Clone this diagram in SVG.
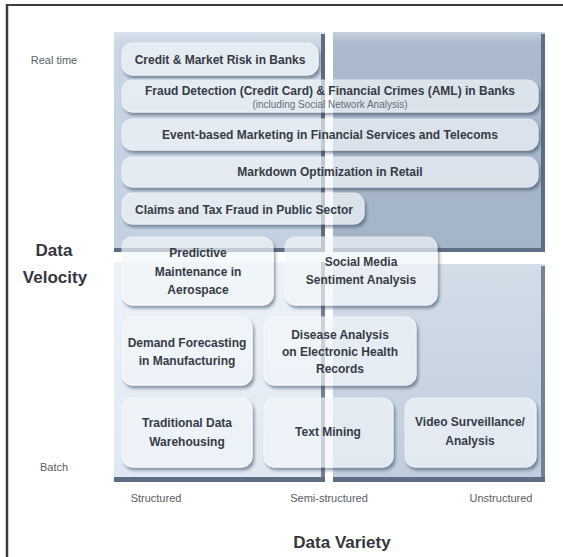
<svg xmlns="http://www.w3.org/2000/svg" width="563" height="557" viewBox="0 0 563 557">
<defs>
<style>
.box{fill:#f3f7fb;stroke:#ffffff;stroke-width:1;opacity:0.68;filter:url(#sh)}
.bt{font-family:"Liberation Sans",Arial,sans-serif;font-weight:bold;font-size:12px;fill:#363b46;text-anchor:middle}
.sub{font-family:"Liberation Sans",Arial,sans-serif;font-size:10px;fill:#666c76;text-anchor:middle}
.ax{font-family:"Liberation Sans",Arial,sans-serif;font-size:11px;fill:#5a5e66;text-anchor:middle}
.big{font-family:"Liberation Sans",Arial,sans-serif;font-weight:bold;font-size:17px;fill:#34373d;text-anchor:middle}
.edge{fill:#5d6d83}
</style>
<filter id="sh" x="-10%" y="-20%" width="125%" height="150%">
<feGaussianBlur in="SourceAlpha" stdDeviation="1.6" result="b"/>
<feOffset in="b" dx="1.5" dy="2.5" result="o"/>
<feComposite in="o" in2="SourceAlpha" operator="out" result="oo"/>
<feFlood flood-color="#34445c" flood-opacity="0.75"/>
<feComposite in2="oo" operator="in" result="s"/>
<feMerge><feMergeNode in="s"/><feMergeNode in="SourceGraphic"/></feMerge>
</filter>
<linearGradient id="gTL" x1="0" y1="0" x2="0" y2="1"><stop offset="0" stop-color="#dbe4ee"/><stop offset="0.05" stop-color="#c9d6e4"/><stop offset="1" stop-color="#c2d0df"/></linearGradient>
<linearGradient id="gTR" x1="0" y1="0" x2="0" y2="1"><stop offset="0" stop-color="#c7d2de"/><stop offset="0.05" stop-color="#abbacc"/><stop offset="1" stop-color="#a5b5c8"/></linearGradient>
<linearGradient id="gBL" x1="0" y1="0" x2="0" y2="1"><stop offset="0" stop-color="#edf2f8"/><stop offset="1" stop-color="#dfe8f2"/></linearGradient>
<linearGradient id="gBR" x1="0" y1="0" x2="0" y2="1"><stop offset="0" stop-color="#d3dde8"/><stop offset="1" stop-color="#bfcddd"/></linearGradient>
</defs>
<rect width="563" height="557" fill="#ffffff"/>
<g id="frame" stroke="#3c3c3c" fill="none">
<line x1="6" y1="5" x2="563" y2="5" stroke-width="2"/>
<line x1="7" y1="4" x2="7" y2="557" stroke-width="2.5"/>
</g>
<g id="quadrants">
<rect x="114" y="32" width="211" height="220" fill="url(#gTL)"/>
<rect x="333" y="32" width="212" height="220" fill="url(#gTR)"/>
<rect x="114" y="262" width="211" height="220" fill="url(#gBL)"/>
<rect x="333" y="264" width="212" height="218" fill="url(#gBR)"/>
<rect class="edge" x="321" y="34" width="4" height="218"/>
<rect class="edge" x="541" y="34" width="4" height="218"/>
<rect class="edge" x="114" y="248" width="211" height="4"/>
<rect class="edge" x="333" y="248" width="212" height="4"/>
<rect class="edge" x="321" y="262" width="4" height="220" opacity="0.85"/>
<rect class="edge" x="541" y="266" width="4" height="216" opacity="0.8"/>
<rect class="edge" x="114" y="477" width="211" height="5"/>
<rect class="edge" x="333" y="477" width="212" height="5"/>
</g>
<g id="axis-labels">
<text class="ax" x="54" y="64">Real time</text>
<text class="ax" x="54" y="471">Batch</text>
<text class="ax" x="156" y="502">Structured</text>
<text class="ax" x="329" y="502">Semi-structured</text>
<text class="ax" x="501" y="502">Unstructured</text>
<text class="big" x="54" y="256">Data</text>
<text class="big" x="55" y="283">Velocity</text>
<text class="big" x="342" y="548">Data Variety</text>
</g>
<g id="credit"><rect class="box" x="122" y="43" width="196" height="32" rx="10"/><text class="bt" x="220" y="64">Credit &amp; Market Risk in Banks</text></g>
<g id="fraud"><rect class="box" x="122" y="80" width="416" height="32" rx="10"/><text class="bt" x="330" y="95">Fraud Detection (Credit Card) &amp; Financial Crimes (AML) in Banks</text><text class="sub" x="330" y="108">(including Social Network Analysis)</text></g>
<g id="event"><rect class="box" x="122" y="119" width="416" height="31" rx="10"/><text class="bt" x="330" y="139">Event-based Marketing in Financial Services and Telecoms</text></g>
<g id="markdown"><rect class="box" x="122" y="157" width="416" height="30" rx="10"/><text class="bt" x="330" y="176">Markdown Optimization in Retail</text></g>
<g id="claims"><rect class="box" x="122" y="193" width="242" height="31" rx="10"/><text class="bt" x="244" y="214">Claims and Tax Fraud in Public Sector</text></g>
<g id="predictive"><rect class="box" x="122" y="237" width="151" height="68" rx="10"/><text class="bt" x="198" y="257">Predictive</text><text class="bt" x="198" y="276">Maintenance in</text><text class="bt" x="198" y="294">Aerospace</text></g>
<g id="social"><rect class="box" x="285" y="237" width="152" height="68" rx="10"/><text class="bt" x="361" y="266">Social Media</text><text class="bt" x="361" y="284">Sentiment Analysis</text></g>
<g id="demand"><rect class="box" x="122" y="317" width="130" height="68" rx="10"/><text class="bt" x="187" y="347">Demand Forecasting</text><text class="bt" x="187" y="365">in Manufacturing</text></g>
<g id="disease"><rect class="box" x="264" y="317" width="152" height="68" rx="10"/><text class="bt" x="340" y="339">Disease Analysis</text><text class="bt" x="340" y="356">on Electronic Health</text><text class="bt" x="340" y="373">Records</text></g>
<g id="traditional"><rect class="box" x="122" y="398" width="130" height="69" rx="10"/><text class="bt" x="187" y="427">Traditional Data</text><text class="bt" x="187" y="446">Warehousing</text></g>
<g id="textmining"><rect class="box" x="264" y="398" width="129" height="69" rx="10"/><text class="bt" x="328" y="436">Text Mining</text></g>
<g id="video"><rect class="box" x="405" y="398" width="131" height="69" rx="10"/><text class="bt" x="470" y="426">Video Surveillance/</text><text class="bt" x="470" y="445">Analysis</text></g>
<g id="connectors"></g>
</svg>
